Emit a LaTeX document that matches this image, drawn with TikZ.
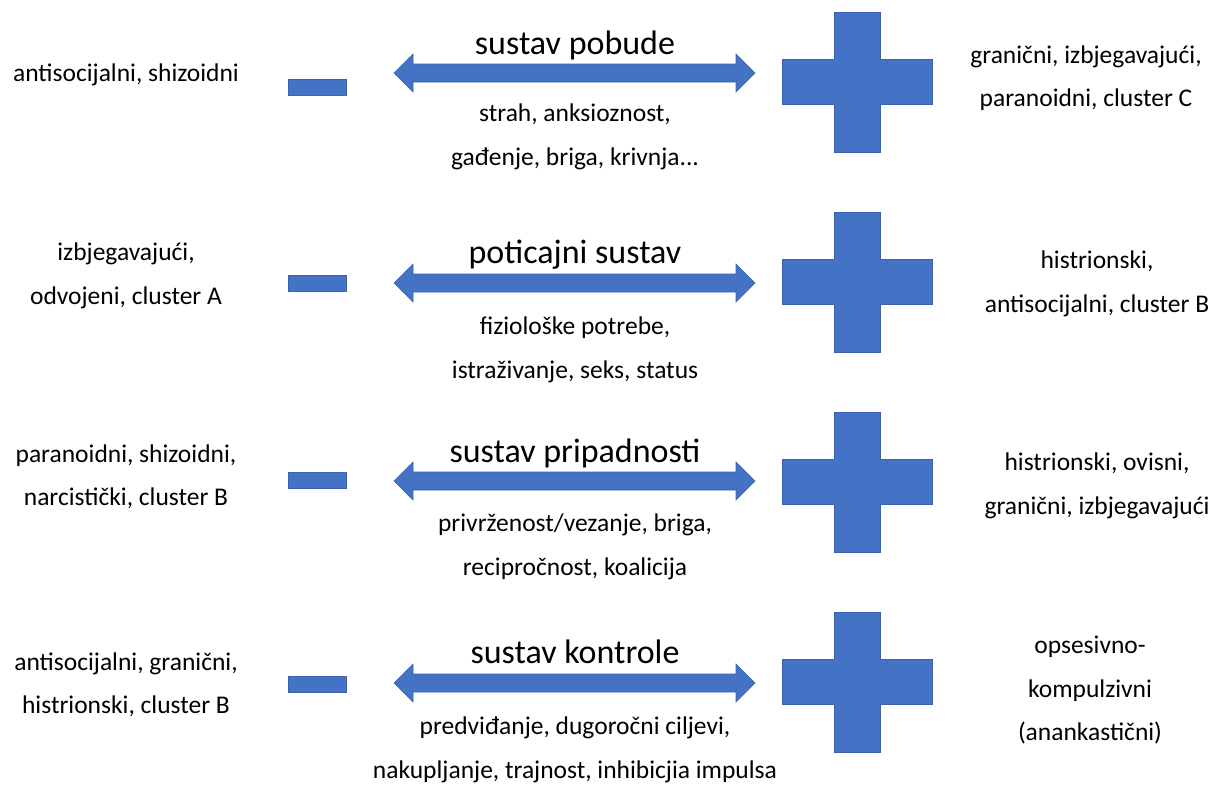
\documentclass[tikz,border=0pt]{standalone}
\usepackage{fontspec}
\setmainfont{Carlito}
\usepackage{tikz}
\usetikzlibrary{positioning}
\definecolor{shapeblue}{RGB}{68,114,196}
\definecolor{shapeedge}{RGB}{60,98,170}
\tikzset{
  % tekst u bocnim i srednjim stupcima
  every node/.append style={font=\fontsize{25.5}{43.5}\selectfont},
  sidetxt/.style={align=center},
  systitle/.style={font=\fontsize{34}{40}\selectfont},
  % plavi oblici
  blueshape/.style={draw=shapeedge, line width=0.6pt, fill=shapeblue},
  minusbar/.style={blueshape, minimum width=58pt, minimum height=16pt, inner sep=0pt},
  pics/plusmark/.style={code={
    \draw[blueshape] (-75,-22.5) -- (-23,-22.5) -- (-23,-70) -- (23,-70) -- (23,-22.5)
      -- (75,-22.5) -- (75,22.5) -- (23,22.5) -- (23,70) -- (-23,70) -- (-23,22.5)
      -- (-75,22.5) -- cycle;
  }},
  pics/dblarrow/.style={code={
    \draw[blueshape] (-180.5,0) -- (-161.5,-19) -- (-161.5,-9) -- (161.5,-9) -- (161.5,-19)
      -- (180.5,0) -- (161.5,19) -- (161.5,9) -- (-161.5,9) -- (-161.5,19) -- cycle;
  }},
}
\begin{document}
\begin{tikzpicture}[x=1pt,y=-1pt]
    \useasboundingbox (0,0) rectangle (1217,787);

    % Sustav pobude
    \node[sidetxt] (pobude-left) at (126,75) {antisocijalni, shizoidni};
    \node[minusbar] (pobude-minus) at (317,87) {};
    \pic (pobude-arrow) at (574.5,73) {dblarrow};
    \node[systitle] (pobude-title) at (575,45) {sustav pobude};
    \node[sidetxt] (pobude-txt) at (575,137) {strah, anksioznost,\\ gađenje, briga, krivnja...};
    \pic (pobude-plus) at (857,82) {plusmark};
    \node[sidetxt] (pobude-right) at (1086,78) {granični, izbjegavajući,\\ paranoidni, cluster C};

    % Poticajni sustav
    \node[sidetxt] (poticaj-left) at (126,276) {izbjegavajući,\\ odvojeni, cluster A};
    \node[minusbar] (poticaj-minus) at (317,283) {};
    \pic (poticaj-arrow) at (574.5,283) {dblarrow};
    \node[systitle] (poticaj-title) at (575,255) {poticajni sustav};
    \node[sidetxt] (poticaj-txt) at (575,350) {fiziološke potrebe,\\ istraživanje, seks, status};
    \pic (poticaj-plus) at (857,282) {plusmark};
    \node[sidetxt] (poticaj-right) at (1097,284) {histrionski,\\ antisocijalni, cluster B};

    % Sustav pripadnosti
    \node[sidetxt] (pripad-left) at (126,477) {paranoidni, shizoidni,\\ narcistički, cluster B};
    \node[minusbar] (pripad-minus) at (317,480) {};
    \pic (pripad-arrow) at (574.5,481) {dblarrow};
    \node[systitle] (pripad-title) at (575,453) {sustav pripadnosti};
    \node[sidetxt] (pripad-txt) at (575,547) {privrženost/vezanje, briga,\\ recipročnost, koalicija};
    \pic (pripad-plus) at (857,482) {plusmark};
    \node[sidetxt] (pripad-right) at (1097,486) {histrionski, ovisni,\\ granični, izbjegavajući};

    % Sustav kontrole
    \node[sidetxt] (kontr-left) at (126,685) {antisocijalni, granični,\\ histrionski, cluster B};
    \node[minusbar] (kontr-minus) at (317,684) {};
    \pic (kontr-arrow) at (574.5,683) {dblarrow};
    \node[systitle] (kontr-title) at (575,652) {sustav kontrole};
    \node[sidetxt] (kontr-txt) at (575,750) {predviđanje, dugoročni ciljevi,\\ nakupljanje, trajnost, inhibicjia impulsa};
    \pic (kontr-plus) at (857,682) {plusmark};
    \node[sidetxt] (kontr-right) at (1090,690) {opsesivno-\\ kompulzivni\\ (anankastični)};
\end{tikzpicture}
\end{document}
